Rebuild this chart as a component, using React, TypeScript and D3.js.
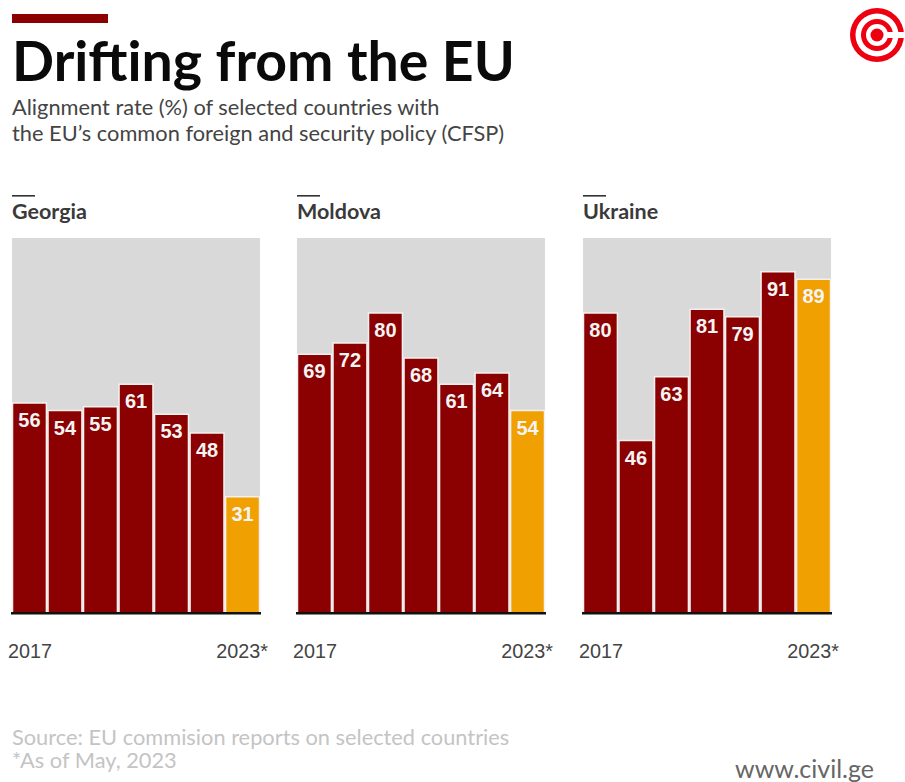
import React from "react";
import * as d3 from "d3";

const years = ["2017", "2018", "2019", "2020", "2021", "2022", "2023"];
const georgia = [56, 54, 55, 61, 53, 48, 31];
const moldova = [69, 72, 80, 68, 61, 64, 54];
const ukraine = [80, 46, 63, 81, 79, 91, 89];
const firstTick = "2017";
const lastTick = "2023*";

const panels = [
  { name: "Georgia", values: georgia, left: 12 },
  { name: "Moldova", values: moldova, left: 297 },
  { name: "Ukraine", values: ukraine, left: 583 },
];

const panelWidth = 248;
const top = 238;
const base = 613;
const DARK = "#8b0000";
const AMBER = "#f0a000";
const PANEL = "#d9d9d9";
const HEAD = "Lato, 'Open Sans', sans-serif";
const NUM = "'Liberation Sans', Arial, sans-serif";

const y = d3.scaleLinear().domain([0, 100]).range([base, top]);

function Panel({ name, values, left }: { name: string; values: number[]; left: number }) {
  const x = d3.scaleBand().domain(years).range([left + 0.5, left + panelWidth - 0.5]).paddingInner(0.045).paddingOuter(0);
  return (
    <g>
      <rect x={left} y={195} width={23} height={1.6} fill="#333" />
      <text x={left} y={219} fontFamily={HEAD} fontSize={21.5} fontWeight={700} fill="#3a3a3a">{name}</text>
      <rect x={left} y={top} width={panelWidth} height={base - top} fill={PANEL} />
      {values.map((v, i) => {
        const bx = x(years[i]) as number;
        return (
          <g key={years[i]}>
            <rect x={bx} y={y(v)} width={x.bandwidth()} height={base - y(v)} fill={i === 6 ? AMBER : DARK} stroke="#f6f0f0" strokeWidth={1.5} />
            <text x={bx + x.bandwidth() / 2} y={y(v) + 24} textAnchor="middle" fontFamily={NUM} fontSize={20} fontWeight={700} fill="#f4f4f4">{v}</text>
          </g>
        );
      })}
      <rect x={left - 1} y={base - 1} width={panelWidth + 2} height={2.5} fill="#111" />
      <text x={left - 4} y={658} fontFamily={NUM} fontSize={19.8} fill="#444">{firstTick}</text>
      <text x={left + panelWidth + 8} y={658} textAnchor="end" fontFamily={NUM} fontSize={19.8} fill="#444">{lastTick}</text>
    </g>
  );
}

export default function App() {
  return (
    <svg width={905} height={782} style={{ position: "absolute", left: 0, top: 0, background: "#fff" }}>
      <rect x={12} y={14} width={96} height={9} fill={DARK} />
      <text x={12} y={81} fontFamily={HEAD} fontSize={55.4} fontWeight={700} fill="#0a0a0a">Drifting from the EU</text>
      <text fontFamily={HEAD} fontSize={21.8} fill="#444">
        <tspan x={12} y={115}>Alignment rate (%) of selected countries with</tspan>
        <tspan x={12} y={141}>the EU’s common foreign and security policy (CFSP)</tspan>
      </text>
      {panels.map((p) => <Panel key={p.name} {...p} />)}
      <text fontFamily={HEAD} fontSize={21.8} fill="#c4c4c4">
        <tspan x={12} y={745}>Source: EU commision reports on selected countries</tspan>
        <tspan x={12} y={768}>*As of May, 2023</tspan>
      </text>
      <text x={874} y={778} textAnchor="end" fontFamily={HEAD} fontSize={25} fill="#666">www.civil.ge</text>
      <g transform="translate(877,35)">
        <circle r={27} fill="#ee0010" />
        <circle r={21.5} fill="#fff" />
        <circle r={16} fill="#ee0010" />
        <circle r={11} fill="#fff" />
        <circle r={6.5} fill="#ee0010" />
        <rect x={9} y={-3} width={20} height={6} fill="#fff" />
      </g>
    </svg>
  );
}
